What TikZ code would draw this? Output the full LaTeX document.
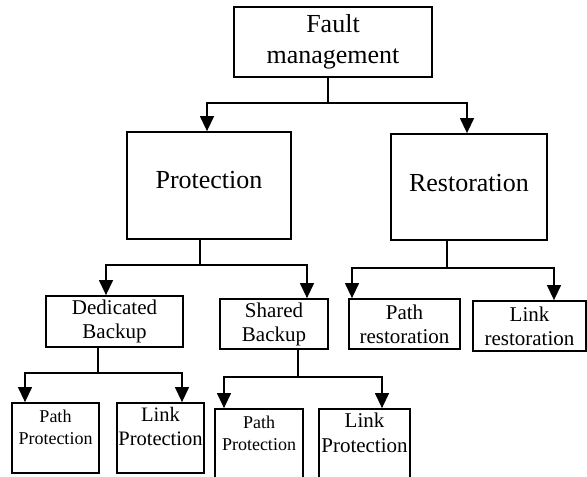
\documentclass[tikz,border=0pt]{standalone}
\usepackage{fontspec}
\setmainfont{Liberation Serif}
\usetikzlibrary{arrows.meta}
\newcommand\fsz[2]{\fontsize{#1}{#2}\selectfont}

\begin{document}
\begin{tikzpicture}[x=1pt, y=-1pt,
  box/.style={draw, line width=1.8pt, inner sep=0pt, align=center},
  lbl/.style={anchor=north, align=center, inner sep=0pt},
  arr/.style={line width=1.3pt, -{Triangle[width=14pt,length=15pt]}}]
\useasboundingbox (0,0) rectangle (587,477);
\clip (0,0) rectangle (587,477);
\node[box, minimum width=198, minimum height=70, font=\fsz{26}{31}] (fault) at (333,42) {Fault\\management};
\node[box, minimum width=164, minimum height=107, font=\fsz{26}{31}, text depth=11pt] (prot) at (209,185.5) {Protection};
\node[box, minimum width=156, minimum height=106, font=\fsz{26}{31}, text depth=9pt] (rest) at (469,187) {Restoration};
\node[box, minimum width=137, minimum height=51, font=\fsz{21}{24}] (ded) at (114.5,321.5) {Dedicated\\Backup};
\node[box, minimum width=108, minimum height=50, font=\fsz{21}{24}] (shb) at (274,324) {Shared\\Backup};
\node[box, minimum width=111, minimum height=50, font=\fsz{21}{24}] (prs) at (404.5,324) {Path\\restoration};
\node[box, minimum width=113, minimum height=50, font=\fsz{21}{24}] (lrs) at (529.5,326) {Link\\restoration};
\node[box, minimum width=87, minimum height=70,
  label={[lbl, yshift=-8, font=\fsz{18}{22}]north:Path\\Protection}] (dpp) at (55.5,438) {};
\node[box, minimum width=87, minimum height=70,
  label={[lbl, yshift=-5, font=\fsz{20.5}{24}]north:Link\\Protection}] (dlp) at (160.5,438) {};
\node[box, minimum width=88, minimum height=90,
  label={[lbl, yshift=-8, font=\fsz{18}{22}]north:Path\\Protection}] (spp) at (259,454) {};
\node[box, minimum width=91, minimum height=90,
  label={[lbl, yshift=-5, font=\fsz{21}{25}]north:Link\\Protection}] (slp) at (364.5,454) {};
\draw[arr] ([xshift=-5]fault.south) -- ++(0,25) -| ([xshift=-2]prot.north);
\draw[arr] ([xshift=-5]fault.south) -- ++(0,25) -| ([xshift=-2]rest.north);
\draw[arr] ([xshift=-9]prot.south) -- ++(0,25) -| ([xshift=-8.5]ded.north);
\draw[arr] ([xshift=-9]prot.south) -- ++(0,25) -| ([xshift=33]shb.north);
\draw[arr] ([xshift=-22]rest.south) -- ++(0,27) -| ([xshift=-52.5]prs.north);
\draw[arr] ([xshift=-22]rest.south) -- ++(0,27) -| ([xshift=24.5]lrs.north);
\draw[arr] ([xshift=-16.5]ded.south) -- ++(0,25) -| ([xshift=-30.5]dpp.north);
\draw[arr] ([xshift=-16.5]ded.south) -- ++(0,25) -| ([xshift=21.5]dlp.north);
\draw[arr] ([xshift=24]shb.south) -- ++(0,27) -| ([xshift=-35]spp.north);
\draw[arr] ([xshift=24]shb.south) -- ++(0,27) -| ([xshift=17.5]slp.north);
\end{tikzpicture}
\end{document}
